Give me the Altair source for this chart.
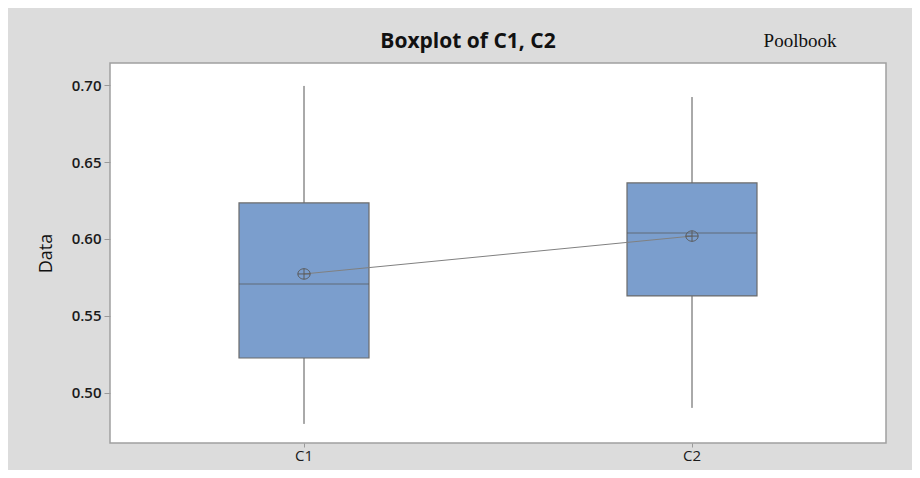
import altair as alt
import pandas as pd

# ---- data ----
categories = ["C1", "C2"]
whisker_low = [0.4799, 0.4903]
q1 = [0.5227, 0.5630]
median = [0.5708, 0.6039]
q3 = [0.6234, 0.6364]
whisker_high = [0.6994, 0.6922]
means = [0.5773, 0.6019]
y_ticks = [0.50, 0.55, 0.60, 0.65, 0.70]
chart_title = "Boxplot of C1, C2"
corner_note = "Poolbook"

df = pd.DataFrame({
    "cat": categories,
    "lo": whisker_low,
    "q1": q1,
    "med": median,
    "q3": q3,
    "hi": whisker_high,
    "mean": means,
})

x = alt.X(
    "cat:N",
    title=None,
    sort=categories,
    scale=alt.Scale(paddingInner=0, paddingOuter=0),
    axis=alt.Axis(
        labelAngle=0,
        labelFont="Open Sans",
        labelFontSize=15,
        labelColor="#1a1a1a",
        labelPadding=1,
        tickSize=4,
        tickColor="#9a9a9a",
        domain=False,
        grid=False,
    ),
)

yscale = alt.Scale(domain=[0.4675, 0.7143], nice=False, zero=False)
yaxis = alt.Axis(
    values=y_ticks,
    format=".2f",
    title="Data",
    titleFont="Open Sans",
    titleFontSize=18,
    titleFontWeight=500,
    titleColor="#111111",
    titlePadding=16,
    labelFont="Open Sans",
    labelFontSize=15,
    labelFontWeight=600,
    labelColor="#1a1a1a",
    labelPadding=3,
    tickSize=6,
    tickColor="#9a9a9a",
    domain=False,
    grid=False,
)

base = alt.Chart(df)

whiskers = base.mark_rule(color="#555555", strokeWidth=1).encode(
    x=x,
    y=alt.Y("lo:Q", scale=yscale, axis=yaxis),
    y2="hi:Q",
)

boxes = base.mark_bar(
    size=130, color="#7b9ecd", stroke="#6b6b6b", strokeWidth=1.2
).encode(
    x=x,
    y=alt.Y("q1:Q", scale=yscale),
    y2="q3:Q",
)

med_ticks = base.mark_tick(
    size=130, thickness=1, color="#555555", orient="horizontal"
).encode(
    x=x,
    y=alt.Y("med:Q", scale=yscale),
)

mean_line = base.mark_line(color="#808080", strokeWidth=1).encode(
    x=x,
    y=alt.Y("mean:Q", scale=yscale),
)

mean_pts = base.mark_point(
    shape="M-1,0A1,0.85,0,1,1,1,0A1,0.85,0,1,1,-1,0M-1,0L1,0M0,-0.85L0,0.85",
    size=150,
    filled=False,
    stroke="#5a5a5a",
    strokeWidth=1,
    opacity=1,
).encode(
    x=x,
    y=alt.Y("mean:Q", scale=yscale),
)

title_mark = alt.Chart(pd.DataFrame({"t": [chart_title]})).mark_text(
    font="Open Sans",
    fontSize=21,
    fontWeight="bold",
    color="#111111",
    baseline="middle",
    align="center",
).encode(
    x=alt.value(358),
    y=alt.value(-21),
    text="t:N",
)

note = alt.Chart(pd.DataFrame({"t": [corner_note]})).mark_text(
    font="Liberation Serif",
    fontSize=19,
    color="#111111",
    baseline="middle",
    align="center",
).encode(
    x=alt.value(690),
    y=alt.value(-22),
    text="t:N",
)

chart = (
    alt.layer(whiskers, boxes, med_ticks, mean_line, mean_pts, title_mark, note)
    .properties(
        width=776,
        height=380,
        background="#dcdcdc",
        padding={"left": 102, "top": 55, "right": 26, "bottom": 27},
        autosize=alt.AutoSizeParams(type="none"),
    )
    .configure_view(stroke="#a0a0a0", strokeWidth=1.5, fill="white")
)

chart.save("out.html", embed_options={"renderer": "svg", "actions": False})
